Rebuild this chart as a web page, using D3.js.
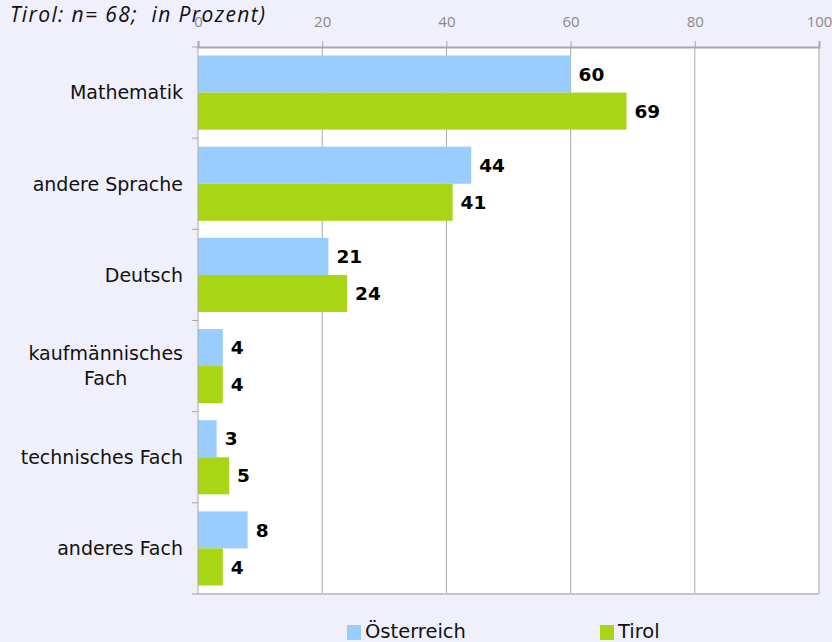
<!DOCTYPE html>
<html>
<head>
<meta charset="utf-8">
<script src="https://cdn.jsdelivr.net/npm/d3@7"></script>
<style>
  html, body { margin: 0; padding: 0; background: #f0f0fc; }
  svg { display: block; }
</style>
</head>
<body>
<div id="chart"></div>
<script>
// Daten
const kategorien = [
  ["Mathematik"],
  ["andere Sprache"],
  ["Deutsch"],
  ["kaufmännisches", "Fach"],
  ["technisches Fach"],
  ["anderes Fach"]
];
const serien = ["Österreich", "Tirol"];
const oesterreich = [60, 44, 21, 4, 3, 8];
const tirol = [69, 41, 24, 4, 5, 4];
const ticks = [0, 20, 40, 60, 80, 100];
const titel = "Tirol: n= 68;  in Prozent)";

const farben = { "Österreich": "#99ccff", "Tirol": "#a8d614" };

const width = 832, height = 642;
const svg = d3.select("#chart").append("svg")
  .attr("width", width)
  .attr("height", height);

const x = d3.scaleLinear().domain([0, 100]).range([198, 819]);
const ids = kategorien.map((d, i) => i);
const y = d3.scaleBand().domain(ids).range([47, 594]).padding(0);
const yInner = d3.scaleBand().domain(serien).range([0, y.bandwidth()]).paddingOuter(0.23).paddingInner(0);

// Plotfläche
svg.append("rect")
  .attr("x", x(0)).attr("y", 47)
  .attr("width", x(100) - x(0)).attr("height", 594 - 47)
  .attr("fill", "#ffffff");

// Gitterlinien
svg.append("g").selectAll("line")
  .data(ticks.slice(1))
  .join("line")
  .attr("x1", d => x(d)).attr("x2", d => x(d))
  .attr("y1", 47).attr("y2", 594)
  .attr("stroke", "#a8a8a8").attr("stroke-width", 1);

// Balken
const zeilen = ids.map(i => ({ i, werte: [oesterreich[i], tirol[i]] }));
const gruppen = svg.append("g").selectAll("g")
  .data(zeilen)
  .join("g")
  .attr("transform", d => `translate(0,${y(d.i)})`);

gruppen.selectAll("rect")
  .data(d => serien.map((s, k) => ({ s, v: d.werte[k] })))
  .join("rect")
  .attr("x", x(0))
  .attr("y", d => yInner(d.s))
  .attr("width", d => x(d.v) - x(0))
  .attr("height", yInner.bandwidth())
  .attr("fill", d => farben[d.s]);

gruppen.selectAll("text")
  .data(d => serien.map((s, k) => ({ s, v: d.werte[k] })))
  .join("text")
  .attr("x", d => x(d.v) + 8)
  .attr("y", d => yInner(d.s) + yInner.bandwidth() / 2)
  .attr("dy", "0.36em")
  .attr("font-family", "DejaVu Sans, sans-serif")
  .attr("font-weight", "bold")
  .attr("font-size", 18.5)
  .attr("fill", "#000")
  .text(d => d.v);

// obere Achse
const achseOben = svg.append("g")
  .attr("transform", "translate(0,47)")
  .call(d3.axisTop(x).tickValues(ticks).tickSize(6).tickPadding(14));
achseOben.select(".domain").attr("stroke", "#a8a8a8").attr("stroke-width", 2);
achseOben.selectAll(".tick line").attr("stroke", "#a8a8a8");
achseOben.selectAll(".tick text")
  .attr("fill", "#888888")
  .attr("font-family", "Open Sans, sans-serif")
  .attr("font-size", 15);

// linke Achse
svg.append("line")
  .attr("x1", x(0)).attr("x2", x(0)).attr("y1", 47).attr("y2", 594)
  .attr("stroke", "#a8a8a8");
svg.append("g").selectAll("line")
  .data(d3.range(ids.length + 1))
  .join("line")
  .attr("x1", x(0) - 6).attr("x2", x(0))
  .attr("y1", d => 47 + d * y.step()).attr("y2", d => 47 + d * y.step())
  .attr("stroke", "#a8a8a8");

// untere Linie
svg.append("line")
  .attr("x1", x(0) - 6).attr("x2", x(100)).attr("y1", 594).attr("y2", 594)
  .attr("stroke", "#c4c4cc").attr("stroke-width", 2);

// Kategorienbeschriftung
const labels = svg.append("g").selectAll("text")
  .data(zeilen)
  .join("text")
  .attr("font-family", "DejaVu Sans, sans-serif")
  .attr("font-size", 19)
  .attr("fill", "#111");

labels.each(function (d) {
  const t = d3.select(this);
  const zeilenText = kategorien[d.i];
  const mitte = y(d.i) + y.bandwidth() / 2;
  const lh = 25;
  const start = mitte - (zeilenText.length - 1) * lh / 2;
  const spans = t.selectAll("tspan").data(zeilenText).join("tspan")
    .attr("y", (s, k) => start + k * lh)
    .attr("dy", "0.36em")
    .text(s => s);
  // Zeilen zentriert, Block rechtsbündig
  const breiten = spans.nodes().map(n => n.getComputedTextLength());
  const maxB = d3.max(breiten);
  spans.attr("text-anchor", "middle").attr("x", 183 - maxB / 2);
});

// Titel
svg.append("text")
  .attr("x", 10).attr("y", 22)
  .attr("font-family", "Open Sans, sans-serif")
  .attr("font-style", "italic")
  .attr("font-size", 21)
  .attr("fill", "#111")
  .attr("textLength", 255)
  .attr("lengthAdjust", "spacing")
  .style("white-space", "pre")
  .text(titel);

// Legende
const legende = svg.append("g").selectAll("g")
  .data(serien)
  .join("g")
  .attr("transform", (d, i) => `translate(${[347, 600][i]},625)`);
legende.append("rect")
  .attr("width", 14).attr("height", 15)
  .attr("fill", d => farben[d]);
legende.append("text")
  .attr("x", 18).attr("y", 13)
  .attr("font-family", "DejaVu Sans, sans-serif")
  .attr("font-size", 19.5)
  .attr("fill", "#111")
  .text(d => d);
</script>
</body>
</html>
